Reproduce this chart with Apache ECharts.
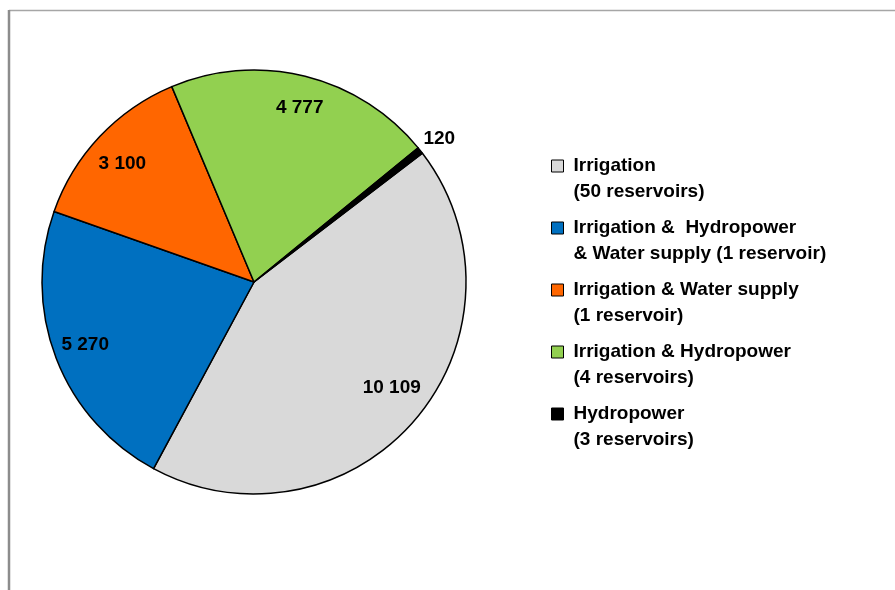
<!DOCTYPE html>
<html>
<head>
<meta charset="utf-8">
<script src="https://cdn.jsdelivr.net/npm/echarts@6/dist/echarts.min.js"></script>
<style>
    html, body { margin: 0; padding: 0; background: #fff; }
    #chart { width: 895px; height: 590px; }
</style>
</head>
<body>
<div id="chart"></div>
<script>
    // data
    const categories = [
        'Irrigation\n(50 reservoirs)',
        'Irrigation &  Hydropower\n& Water supply (1 reservoir)',
        'Irrigation & Water supply\n(1 reservoir)',
        'Irrigation & Hydropower\n(4 reservoirs)',
        'Hydropower\n(3 reservoirs)'
    ]
    const values = [10109, 5270, 3100, 4777, 120]
    const labels = ['10 109', '5 270', '3 100', '4 777', '120']
    const colors = ['#d9d9d9', '#0070c0', '#ff6600', '#92d050', '#000000']

    const font = '"Liberation Sans Narrow", "Arial Narrow", "Liberation Sans", Arial, sans-serif'
    const cx = 254, cy = 282, R = 212

    // small nudges so the labels sit where Excel put them
    const labelShift = [[0, -12], [0, -3], [0, 6], [2, 1], [-16, -1]]

    let chart = echarts.init(document.getElementById('chart'), null, { renderer: 'canvas' })

    let mainData = values.map((v, i) => ({
        name: categories[i],
        value: v,
        itemStyle: { color: colors[i] },
        label: i === 4 ? {
            show: true,
            position: 'outside',
            formatter: labels[i]
        } : { show: false },
        labelLine: { show: false }
    }))

    // transparent ring only to put the inside labels near the rim
    let labelData = values.map((v, i) => ({
        name: categories[i],
        value: v,
        label: { show: i !== 4, formatter: labels[i] }
    }))

    let shiftLayout = function (params) {
        let s = labelShift[params.dataIndex]
        return { dx: s[0], dy: s[1] }
    }

    let option = {
        animation: false,
        backgroundColor: '#fff',
        graphic: [{
            type: 'line',
            shape: { x1: 9, y1: 10.5, x2: 900, y2: 10.5 },
            style: { stroke: '#a6a6a6', lineWidth: 1.5 },
            silent: true
        }, {
            type: 'line',
            shape: { x1: 9, y1: 10, x2: 9, y2: 600 },
            style: { stroke: '#8c8c8c', lineWidth: 2.5 },
            silent: true
        }],
        legend: {
            orient: 'vertical',
            left: 551,
            top: 127,
            padding: 0,
            itemWidth: 12,
            itemHeight: 12,
            itemGap: -16,
            icon: 'rect',
            selectedMode: false,
            data: categories.map((c, i) => ({
                name: c,
                itemStyle: { color: colors[i], borderColor: '#000', borderWidth: 1 }
            })),
            // leading blank line keeps the first text line level with the square
            formatter: function (name) {
                return '\n' + name
            },
            textStyle: {
                fontFamily: font,
                fontWeight: 'bold',
                fontSize: 19,
                lineHeight: 26,
                color: '#000',
                padding: [0, 0, 0, 5]
            }
        },
        series: [{
            type: 'pie',
            name: 'main',
            center: [cx, cy],
            radius: [0, R],
            startAngle: 37.4,
            clockwise: true,
            avoidLabelOverlap: false,
            itemStyle: { borderColor: '#000', borderWidth: 1.5 },
            label: {
                fontFamily: font,
                fontWeight: 'bold',
                fontSize: 19,
                color: '#000'
            },
            labelLine: { show: false, length: 18, length2: 0 },
            labelLayout: shiftLayout,
            emphasis: { disabled: true },
            data: mainData
        }, {
            type: 'pie',
            name: 'labels',
            center: [cx, cy],
            radius: [Math.round(R * 0.68), R],
            startAngle: 37.4,
            clockwise: true,
            silent: true,
            avoidLabelOverlap: false,
            itemStyle: { color: 'rgba(0,0,0,0)', borderWidth: 0 },
            label: {
                position: 'inside',
                fontFamily: font,
                fontWeight: 'bold',
                fontSize: 19,
                color: '#000'
            },
            labelLine: { show: false },
            labelLayout: shiftLayout,
            emphasis: { disabled: true },
            data: labelData
        }]
    }

    chart.setOption(option)
</script>
</body>
</html>
